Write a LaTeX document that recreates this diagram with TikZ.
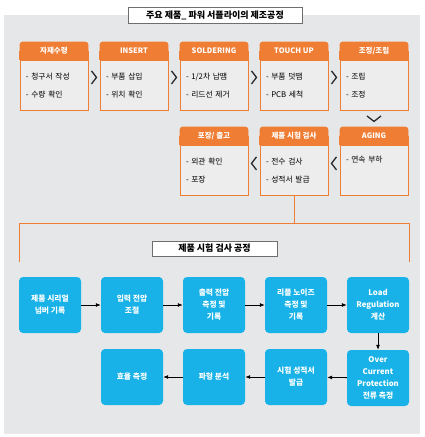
\documentclass[tikz,border=0pt]{standalone}
\usepackage{fontspec}
\setmainfont{Noto Sans CJK KR}
\usetikzlibrary{calc,arrows.meta,backgrounds}
\definecolor{procorange}{RGB}{240,125,52}
\definecolor{testblue}{RGB}{24,178,232}
\definecolor{panelgray}{RGB}{230,231,233}
\definecolor{bodygray}{RGB}{237,237,238}
\definecolor{titleline}{RGB}{110,110,110}
\definecolor{chevgray}{RGB}{40,40,40}
\begin{document}
\begin{tikzpicture}[x=1pt,y=-1pt]
      \tikzset{headbox/.style={draw=procorange, fill=procorange, line width=.9pt, rounded corners=3pt, minimum width=68pt, minimum height=18pt, inner sep=0pt, text=white, font=\fontsize{7.5}{8}\selectfont\bfseries},
               bodybox/.style={draw=procorange, fill=bodygray, line width=.9pt, anchor=north, minimum width=68pt, minimum height=50pt, text width=56pt, inner xsep=6pt, inner ysep=0pt, align=left, font=\fontsize{7.8}{18}\selectfont},
               testbox/.style={fill=testblue, rounded corners=4pt, minimum width=62pt, minimum height=56pt, inner sep=1pt, align=center, text=white, font=\fontsize{7.8}{12}\selectfont\bfseries},
               titlebox/.style={draw=titleline, fill=white, line width=.6pt, inner sep=0pt, font=\fontsize{9}{10}\selectfont\bfseries},
               chev/.style={draw=chevgray, line width=1.3pt},
               flow/.style={draw=black, line width=.8pt, -{Latex[length=5pt,width=4pt]}},
               orangeline/.style={draw=procorange, line width=.8pt}}
      \useasboundingbox (0,0) rectangle (424,437);
%% Titles
      	\node[titlebox, minimum width=174pt, minimum height=16pt] (title1) at (215,15) {주요 제품\_ 파워 서플라이의 제조공정};
      	\node[titlebox, minimum width=125pt, minimum height=15pt] (title2) at (214.5,248.5) {제품 시험 검사 공정};
%% Manufacturing steps
      	\node[headbox] (h1) at (54,51) {자재수령};
      	\node[headbox] (h2) at (134,51) {INSERT};
      	\node[headbox] (h3) at (214,51) {SOLDERING};
      	\node[headbox] (h4) at (294,51) {TOUCH UP};
      	\node[headbox] (h5) at (374,51) {조정/조립};
      	\node[headbox] (h6) at (374,136) {AGING};
      	\node[headbox] (h7) at (294,136) {제품 시험 검사};
      	\node[headbox] (h8) at (214,136) {포장/ 출고};
      	\node[bodybox] (b1) at (h1.south) {- 청구서 작성\\- 수량 확인};
      	\node[bodybox] (b2) at (h2.south) {- 부품 삽입\\- 위치 확인};
      	\node[bodybox] (b3) at (h3.south) {- 1/2차 납땜\\- 리드선 제거};
      	\node[bodybox] (b4) at (h4.south) {- 부품 덧땜\\- PCB 세척};
      	\node[bodybox] (b5) at (h5.south) {- 조립\\- 조정};
      	\node[bodybox] (b6) at (h6.south) {- 연속 부하\\ \strut};
      	\node[bodybox] (b7) at (h7.south) {- 전수 검사\\- 성적서 발급};
      	\node[bodybox] (b8) at (h8.south) {- 외관 확인\\- 포장};
%% Panel behind, square lower corners of the headers
		\begin{scope}[on background layer]
      	\fill[panelgray] (4,15) rectangle (420,434);
		\foreach \h in {h1,h2,h3,h4,h5,h6,h7,h8}
			\fill[procorange] ([xshift=-.45pt]\h.west) rectangle ([xshift=.45pt]\h.south east);
		\end{scope}
%% Chevrons
		\draw[chev] ($(b1.east)!.5!(b2.west)+(-2.5,-15)$) -- ++(5,6.5) -- ++(-5,6.5);
		\draw[chev] ($(b2.east)!.5!(b3.west)+(-2.5,-15)$) -- ++(5,6.5) -- ++(-5,6.5);
		\draw[chev] ($(b3.east)!.5!(b4.west)+(-2.5,-15)$) -- ++(5,6.5) -- ++(-5,6.5);
		\draw[chev] ($(b4.east)!.5!(b5.west)+(-2.5,-15)$) -- ++(5,6.5) -- ++(-5,6.5);
		\draw[chev] ($(b5.south)!.5!(h6.north)+(-7,-3)$) -- ++(7,5.5) -- ++(7,-5.5);
		\draw[chev] ($(b7.east)!.5!(b6.west)+(2.5,-14)$) -- ++(-5,6.5) -- ++(5,6.5);
		\draw[chev] ($(b8.east)!.5!(b7.west)+(2.5,-14)$) -- ++(-5,6.5) -- ++(5,6.5);
%% Bracket to test steps
		\coordinate (bus) at (0,223);
		\coordinate (lt) at (19,262);
		\coordinate (rt) at (409,262);
		\draw[orangeline] (b7.south) -- (b7.south |- bus);
		\draw[orangeline] (lt) -- (lt |- bus) -- (rt |- bus) -- (rt);
%% Test steps
      	\node[testbox] (t1) at (50,305) {제품 시리얼\\넘버 기록};
      	\node[testbox] (t2) at (132,305) {입력 전압\\조절};
      	\node[testbox] (t3) at (214,305) {출력 전압\\측정 및\\기록};
      	\node[testbox] (t4) at (296,305) {리플 노이즈\\측정 및\\기록};
      	\node[testbox] (t5) at (378,305) {Load\\Regulation\\계산};
      	\node[testbox] (t6) at (378,378) {Over\\Current\\Protection\\전류 측정};
      	\node[testbox] (t7) at (296,377) {시험 성적서\\발급};
      	\node[testbox] (t8) at (214,377) {파형 분석};
      	\node[testbox] (t9) at (132,377) {효율 측정};
%Arrows
		\path[flow] (t1) -- (t2);
		\path[flow] (t2) -- (t3);
		\path[flow] (t3) -- (t4);
		\path[flow] (t4) -- (t5);
		\path[flow] (t5) -- (t6);
		\path[flow] (t6) -- (t7);
		\path[flow] (t7) -- (t8);
		\path[flow] (t8) -- (t9);
	\end{tikzpicture}
\end{document}
